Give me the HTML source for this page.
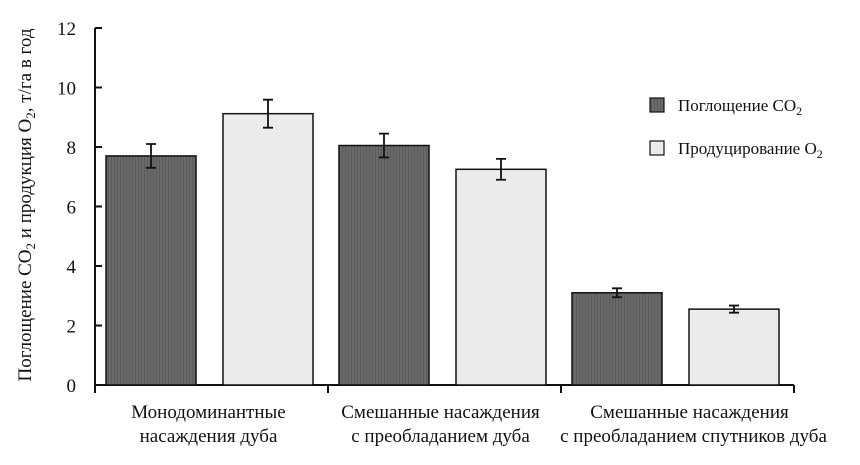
<!DOCTYPE html>
<html><head><meta charset="utf-8"><style>
body{margin:0;background:#fff;}
svg text{font-family:"Liberation Serif","DejaVu Serif",serif;fill:#111;}
</style></head><body>
<svg id="chart" width="860" height="460" xmlns="http://www.w3.org/2000/svg">
<defs>
<pattern id="darkPat" width="3" height="4" patternUnits="userSpaceOnUse">
<rect width="3" height="4" fill="#6a6a6a"/><rect width="1" height="4" fill="#5a5a5a"/>
</pattern>
<pattern id="lightPat" width="4" height="4" patternUnits="userSpaceOnUse">
<rect width="4" height="4" fill="#ececec"/><rect width="1" height="1" fill="#e0e0e0"/>
</pattern>
</defs>
<g id="plot"></g>
</svg>
<script>
const categories = [["Монодоминантные","насаждения дуба"],["Смешанные насаждения","с  преобладанием дуба"],["Смешанные насаждения","с  преобладанием спутников дуба"]];
const seriesNames = ["Поглощение CO", "Продуцирование O"];
const absorption = [7.7, 8.05, 3.1];
const production = [9.12, 7.25, 2.55];
const absorptionErr = [0.4, 0.4, 0.15];
const productionErr = [0.47, 0.35, 0.12];
const yTicks = [0, 2, 4, 6, 8, 10, 12];

const NS = "http://www.w3.org/2000/svg";
const g = document.getElementById("plot");
const x0 = 95, groupW = 233, y0 = 385, yTop = 28, yMax = 12;
const yS = v => y0 - v / yMax * (y0 - yTop);
const labelShift = [[-3, -3], [-4, -4], [12, 16]];
function mk(tag, attrs, parent) {
  const e = document.createElementNS(NS, tag);
  for (const k in attrs) e.setAttribute(k, attrs[k]);
  (parent || g).appendChild(e);
  return e;
}
const yAxis = mk("line", {x1: x0, y1: yTop, x2: x0, y2: y0, stroke: "#111", "stroke-width": 2});


yTicks.forEach(t => {
  const tk = mk("line", {x1: x0, y1: yS(t), x2: x0 + 7, y2: yS(t), stroke: "#111", "stroke-width": 2});
  
  
  const tl = mk("text", {x: x0 - 19, y: yS(t) + 7, "text-anchor": "end", "font-size": 19});
  tl.textContent = t;
  
  
});
const xAxis = mk("line", {x1: x0, y1: y0, x2: x0 + groupW * 3, y2: y0, stroke: "#111", "stroke-width": 2});


for (let i = 0; i <= 3; i++) {
  const tk = mk("line", {x1: x0 + i * groupW, y1: y0, x2: x0 + i * groupW, y2: y0 + 8, stroke: "#111", "stroke-width": 2});
  
  
}
function bar(v, err, x, fill, name) {
  const r = mk("rect", {x: x, y: yS(v), width: 90, height: y0 - yS(v), fill: fill, stroke: "#111", "stroke-width": 1.5});
  
  
  const cx = x + 45;
  const eb = mk("path", {d: `M${cx},${yS(v + err)}V${yS(v - err)}M${cx - 5},${yS(v + err)}H${cx + 5}M${cx - 5},${yS(v - err)}H${cx + 5}`, stroke: "#111", "stroke-width": 1.8, fill: "none"});
  
  
}
categories.forEach((c, i) => {
  const gx = x0 + i * groupW;
  bar(absorption[i], absorptionErr[i], gx + 11, "url(#darkPat)", "bar-co2-absorption-" + (i + 1));
  bar(production[i], productionErr[i], gx + 128, "url(#lightPat)", "bar-o2-production-" + (i + 1));
  c.forEach((line, j) => {
    const t = mk("text", {x: gx + groupW / 2 + labelShift[i][j], y: 418 + j * 24, "text-anchor": "middle", "font-size": 19});
    t.textContent = line;
    
    
  });
});
const yt = mk("text", {transform: "translate(31,205) rotate(-90)", "text-anchor": "middle", "font-size": 19});
yt.innerHTML = 'Поглощение CO<tspan font-size="13" dy="4">2</tspan><tspan dy="-4"> и продукция O</tspan><tspan font-size="13" dy="4">2</tspan><tspan dy="-4">, т/га в год</tspan>';


const fills = ["url(#darkPat)", "url(#lightPat)"];
seriesNames.forEach((s, i) => {
  const ly = 98 + i * 43;
  const r = mk("rect", {x: 650, y: ly, width: 14, height: 14, fill: fills[i], stroke: "#111", "stroke-width": 1.2});
  
  
  const t = mk("text", {x: 678, y: ly + 13, "font-size": 17});
  t.innerHTML = s + '<tspan font-size="12" dy="4">2</tspan>';
  
  
});
</script>
</body></html>
